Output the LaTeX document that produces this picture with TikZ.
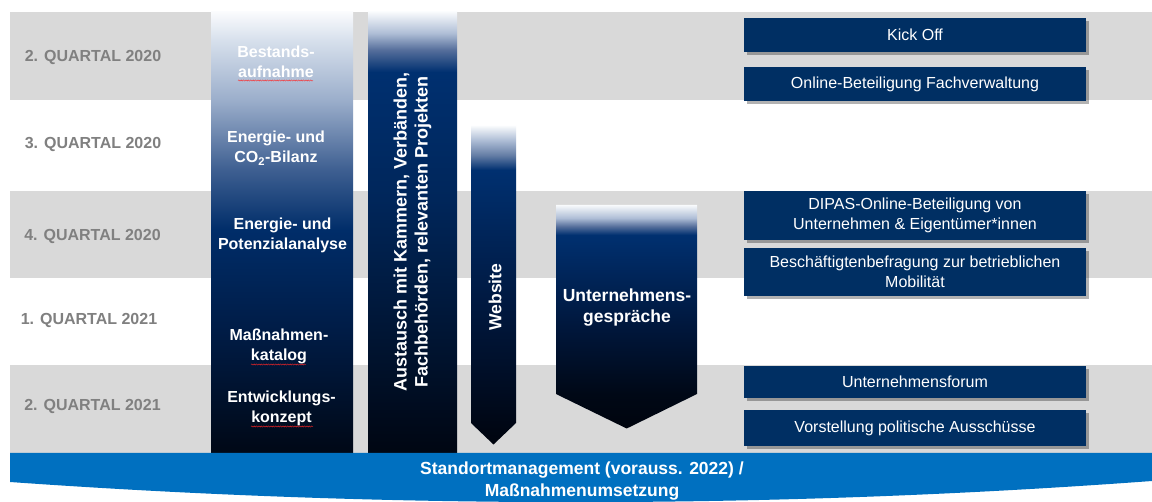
\documentclass[tikz,border=0pt]{standalone}
\usepackage{fontspec}
\setmainfont{Liberation Sans}
\usetikzlibrary{shadows,decorations.pathmorphing}

\definecolor{bandgray}{RGB}{217,217,217}
\definecolor{boxblue}{RGB}{0,47,99}
\definecolor{barblue}{RGB}{0,112,192}
\definecolor{qgray}{RGB}{128,128,128}

% column 1
\definecolor{a0}{RGB}{0,8,22}
\definecolor{a1}{RGB}{0,28,70}
\definecolor{a2}{RGB}{0,45,105}
\definecolor{a3}{RGB}{62,95,145}
\definecolor{a4}{RGB}{155,174,203}
\definecolor{a5}{RGB}{215,224,236}
\definecolor{a6}{RGB}{250,251,253}
\pgfdeclareverticalshading{colA}{100bp}{color(0bp)=(a0); color(25bp)=(a0); color(38.9bp)=(a1); color(50.3bp)=(a2); color(57.1bp)=(a3); color(65bp)=(a4); color(71.8bp)=(a5); color(75bp)=(a6); color(100bp)=(a6)}
% column 2
\definecolor{b0}{RGB}{0,6,18}
\definecolor{b1}{RGB}{0,38,90}
\definecolor{b2}{RGB}{0,48,112}
\definecolor{b3}{RGB}{85,110,155}
\definecolor{b4}{RGB}{175,190,214}
\definecolor{b5}{RGB}{248,250,252}
\pgfdeclareverticalshading{colB}{100bp}{color(0bp)=(b0); color(25bp)=(b0); color(53.7bp)=(b1); color(68.2bp)=(b2); color(70.7bp)=(b3); color(72.6bp)=(b4); color(75bp)=(b5); color(100bp)=(b5)}
% website
\definecolor{c0}{RGB}{0,4,14}
\definecolor{c1}{RGB}{0,25,65}
\definecolor{c2}{RGB}{100,125,165}
\pgfdeclareverticalshading{colC}{100bp}{color(0bp)=(c0); color(25bp)=(c0); color(47.6bp)=(c1); color(68.1bp)=(b2); color(70.4bp)=(c2); color(72.8bp)=(b4); color(75bp)=(b5); color(100bp)=(b5)}
% Unternehmensgespraeche
\definecolor{d1}{RGB}{0,22,58}
\pgfdeclareverticalshading{colD}{100bp}{color(0bp)=(c0); color(25bp)=(c0); color(32.6bp)=(a0); color(47bp)=(d1); color(68.3bp)=(b2); color(70.2bp)=(b3); color(72.1bp)=(b4); color(75bp)=(b5); color(100bp)=(b5)}

\tikzset{
  qlabel/.style={text=qgray, font=\fontsize{16}{19}\selectfont\bfseries, inner sep=0},
  coltext/.style={text=white, font=\fontsize{16}{20}\selectfont\bfseries, align=center, inner sep=0},
  bigtext/.style={text=white, font=\fontsize{17.5}{21}\selectfont\bfseries, align=center, inner sep=0},
  rbox/.style={fill=boxblue, text=white, font=\fontsize{16}{20}\selectfont, align=center,
    minimum width=342pt, inner sep=0,
    drop shadow={shadow xshift=2.5pt, shadow yshift=-3pt, fill=black, opacity=0.3}},
  spell/.style={draw=red!85, line width=0.4pt, decorate, decoration={snake, amplitude=0.6pt, segment length=2.4pt}}
}

\begin{document}
\begin{tikzpicture}[x=1pt,y=-1pt]
\useasboundingbox (0,0) rectangle (1152,502);
\fill[white] (0,0) rectangle (1152,502);

% bands
\fill[bandgray] (10,12) rectangle (1152,100);
\fill[bandgray] (10,191) rectangle (1152,278);
\fill[bandgray] (10,365) rectangle (1152,453);

% quarter labels
\node[qlabel] (q1) at (93,57) {2. QUARTAL 2020};
\node[qlabel] (q2) at (93,144) {3. QUARTAL 2020};
\node[qlabel] (q3) at (92.5,236) {4. QUARTAL 2020};
\node[qlabel] (q4) at (89,320) {1. QUARTAL 2021};
\node[qlabel] (q5) at (92.5,406) {2. QUARTAL 2021};

% column 1
\path[shading=colA] (211,12) rectangle (353,453);
\node[coltext] (t1) at (276,62) {Bestands-\\aufnahme};
\node[coltext] (t2) at (276,148) {Energie- und\\CO\textsubscript{2}-Bilanz};
\node[coltext] (t3) at (282.5,235.5) {Energie- und\\Potenzialanalyse};
\node[coltext] (t4) at (279,346.5) {Maßnahmen-\\katalog};
\node[coltext] (t5) at (281.5,408) {Entwicklungs-\\konzept};
\path[spell] (238,80.5) -- (313,80.5);
\path[spell] (251,364.5) -- (306,364.5);
\path[spell] (251,426.5) -- (313,426.5);

% column 2
\path[shading=colB] (368,12) rectangle (457,453);
\node[text=white, font=\fontsize{18}{21}\selectfont\bfseries, align=center, inner sep=0, rotate=90] (t6) at (412.5,232)
  {Austausch mit Kammern, Verbänden,\\Fachbehörden, relevanten Projekten};

% website
\path[shading=colC] (471,126) -- (516,126) -- (516,423) -- (493.5,444.5) -- (471,423) -- cycle;
\node[bigtext, rotate=90] (t7) at (495,297) {Website};

% Unternehmensgespraeche
\path[shading=colD] (556,205) -- (697,205) -- (697,394) -- (626.7,428.5) -- (556,394) -- cycle;
\node[bigtext] (t8) at (627,308) {Unternehmens-\\gespräche};

% right boxes
\node[rbox, minimum height=34pt] (r1) at (915,35) {Kick Off};
\node[rbox, minimum height=34pt] (r2) at (915,84) {Online-Beteiligung Fachverwaltung};
\node[rbox, minimum height=49pt] (r3) at (915,215.5) {DIPAS-Online-Beteiligung von\\Unternehmen \& Eigentümer*innen};
\node[rbox, minimum height=48pt] (r4) at (915,272) {Beschäftigtenbefragung zur betrieblichen\\Mobilität};
\node[rbox, minimum height=32pt] (r5) at (915,382) {Unternehmensforum};
\node[rbox, minimum height=36pt] (r6) at (915,428) {Vorstellung politische Ausschüsse};

% bottom band
\fill[barblue] (10,453) -- (1152,453) -- (1152,481) .. controls (771,509) and (391,509) .. (10,482) -- cycle;
\node[text=white, font=\fontsize{17.5}{22}\selectfont\bfseries, align=center, inner sep=0] (t9) at (582,481)
  {Standortmanagement (vorauss. 2022) /\\Maßnahmenumsetzung};
\end{tikzpicture}
\end{document}
